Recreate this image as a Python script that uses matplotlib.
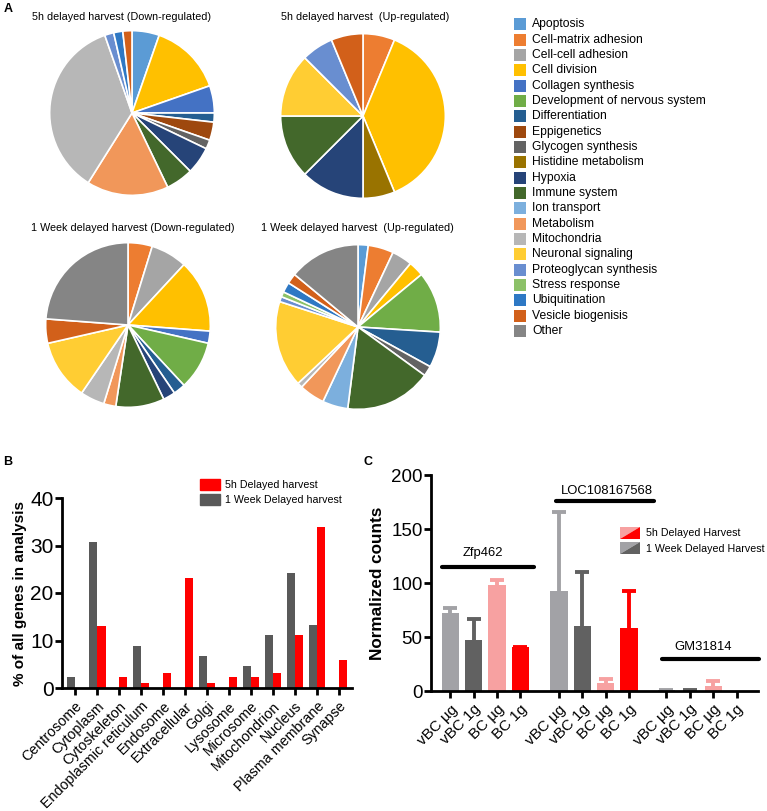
import matplotlib
matplotlib.use('Agg')
import matplotlib.pyplot as plt
import numpy as np
from matplotlib.patches import Rectangle, Polygon, Patch
from matplotlib.legend_handler import HandlerBase

plt.rcParams['font.family'] = ['Liberation Sans', 'DejaVu Sans']

# ---------------- DATA ----------------
categories = ['Apoptosis', 'Cell-matrix adhesion', 'Cell-cell adhesion', 'Cell division',
              'Collagen synthesis', 'Development of nervous system', 'Differentiation',
              'Eppigenetics', 'Glycogen synthesis', 'Histidine metabolism', 'Hypoxia',
              'Immune system', 'Ion transport', 'Metabolism', 'Mitochondria',
              'Neuronal signaling', 'Proteoglycan synthesis', 'Stress response',
              'Ubiquitination', 'Vesicle biogenisis', 'Other']
category_colors = ['#5B9BD5', '#ED7D31', '#A5A5A5', '#FFC000', '#4472C4', '#70AD47', '#255E91',
                   '#9E480E', '#636363', '#997300', '#264478', '#43682B', '#7CAFDD', '#F1975A',
                   '#B7B7B7', '#FFCD33', '#698ED0', '#8CC168', '#2E78C4', '#D2601A', '#858585']

pie1_title = '5h delayed harvest (Down-regulated)'
pie1_labels = ['Apoptosis', 'Cell division', 'Collagen synthesis', 'Differentiation', 'Eppigenetics',
               'Glycogen synthesis', 'Hypoxia', 'Immune system', 'Metabolism', 'Mitochondria',
               'Proteoglycan synthesis', 'Ubiquitination', 'Vesicle biogenisis']
pie1_values = [3, 8, 3, 1, 2, 1, 3, 3, 9, 20, 1, 1, 1]

pie2_title = '5h delayed harvest  (Up-regulated)'
pie2_labels = ['Cell-matrix adhesion', 'Cell division', 'Histidine metabolism', 'Hypoxia',
               'Immune system', 'Neuronal signaling', 'Proteoglycan synthesis', 'Vesicle biogenisis']
pie2_values = [1, 6, 1, 2, 2, 2, 1, 1]

pie3_title = '1 Week delayed harvest (Down-regulated)'
pie3_labels = ['Cell-matrix adhesion', 'Cell-cell adhesion', 'Cell division', 'Collagen synthesis',
               'Development of nervous system', 'Differentiation', 'Hypoxia', 'Immune system',
               'Metabolism', 'Mitochondria', 'Neuronal signaling', 'Vesicle biogenisis', 'Other']
pie3_values = [2, 3, 6, 1, 4, 1, 1, 4, 1, 2, 5, 2, 10]

pie4_title = '1 Week delayed harvest  (Up-regulated)'
pie4_labels = ['Apoptosis', 'Cell-matrix adhesion', 'Cell-cell adhesion', 'Cell division',
               'Development of nervous system', 'Differentiation', 'Glycogen synthesis',
               'Immune system', 'Ion transport', 'Metabolism', 'Mitochondria', 'Neuronal signaling',
               'Proteoglycan synthesis', 'Stress response', 'Ubiquitination', 'Vesicle biogenisis', 'Other']
pie4_values = [2, 5, 4, 3, 12, 7, 2, 17, 5, 5, 1, 17, 1, 1, 2, 2, 14]

compartments = ['Centrosome', 'Cytoplasm', 'Cytoskeleton', 'Endoplasmic reticulum', 'Endosome',
                'Extracellular', 'Golgi', 'Lysosome', 'Microsome', 'Mitochondrion', 'Nucleus',
                'Plasma membrane', 'Synapse']
h5_percent = [0, 13.1, 2.3, 1.0, 3.2, 23.2, 1.0, 2.3, 2.3, 3.2, 11.1, 34.0, 6.0]
week_percent = [2.3, 30.7, 0, 8.9, 0, 0, 6.7, 0, 4.6, 11.1, 24.2, 13.3, 0]

genes = ['Zfp462', 'LOC108167568', 'GM31814']
conditions = ['vBC µg', 'vBC 1g', 'BC µg', 'BC 1g']
counts_mean = [[72.5, 47.2, 98.1, 40.4],
               [92.6, 60.5, 7.1, 58.6],
               [0.5, 0.3, 4.6, 0.0]]
counts_upper = [[77.2, 66.4, 102.8, 41.0],
                [165.4, 110.5, 11.1, 92.9],
                [1.0, 0.8, 9.3, 0.0]]

# ---------------- LAYOUT ----------------
W, H = 767, 811
fig = plt.figure(figsize=(W / 100, H / 100), dpi=100)


def fx(px):
    return px / W


def fy(py):
    return 1 - py / H


color_of = dict(zip(categories, category_colors))

pies = [((132, 113), (122, 17), pie1_title, pie1_labels, pie1_values),
        ((363, 116), (365, 17), pie2_title, pie2_labels, pie2_values),
        ((128, 325), (133, 228), pie3_title, pie3_labels, pie3_values),
        ((358, 327), (357, 228), pie4_title, pie4_labels, pie4_values)]
R = 84
for (cx, cy), (tx, ty), title, labels, values in pies:
    ax = fig.add_axes([fx(cx - R), fy(cy + R), 2 * R / W, 2 * R / H])
    ax.pie(values, colors=[color_of[l] for l in labels], startangle=90, counterclock=False,
           wedgeprops=dict(edgecolor='white', linewidth=1.2))
    ax.set_xlim(-1.02, 1.02)
    ax.set_ylim(-1.02, 1.02)
    fig.text(fx(tx), fy(ty), title, ha='center', va='center', fontsize=7.75)

# legend A
for i, (name, col) in enumerate(zip(categories, category_colors)):
    yc = 24.3 + i * 15.33
    fig.patches.append(Rectangle((fx(514), fy(yc + 6)), 12 / W, 12 / H, transform=fig.transFigure,
                                 facecolor=col, edgecolor='none'))
    fig.text(fx(532), fy(yc), name, ha='left', va='center', fontsize=8.7)

# panel labels
fig.text(fx(8), fy(9), 'A', fontweight='bold', fontsize=9, ha='center', va='center')
fig.text(fx(8), fy(462), 'B', fontweight='bold', fontsize=9, ha='center', va='center')
fig.text(fx(368), fy(462), 'C', fontweight='bold', fontsize=9, ha='center', va='center')

# ---------------- PANEL B ----------------
axB = fig.add_axes([fx(62), fy(688), (352 - 62) / W, (688 - 498) / H])
xb = np.arange(len(compartments))
bw = 0.38
axB.bar(xb - bw / 2, week_percent, bw, color='#595959', label='1 Week Delayed harvest')
axB.bar(xb + bw / 2, h5_percent, bw, color='#FF0000', label='5h Delayed harvest')
axB.set_xlim(-0.6, 12.6)
axB.set_ylim(0, 40)
axB.set_yticks([0, 10, 20, 30, 40])
axB.set_xticks(xb)
axB.set_xticklabels(compartments, rotation=45, ha='right', rotation_mode='anchor', fontsize=10.3)
axB.tick_params(axis='y', labelsize=15, width=2, length=5, pad=1)
axB.tick_params(axis='x', width=2, length=5, pad=3)
for s in ['top', 'right']:
    axB.spines[s].set_visible(False)
for s in ['left', 'bottom']:
    axB.spines[s].set_linewidth(2)
axB.set_ylabel('% of all genes in analysis', fontsize=11, fontweight='bold')
axB.yaxis.set_label_coords((27 - 62) / 290, 0.5)
hB = [Patch(color='#FF0000'), Patch(color='#595959')]
axB.legend(hB, ['5h Delayed harvest', '1 Week Delayed harvest'], loc='upper left',
           bbox_to_anchor=(fx(200), fy(479)), bbox_transform=fig.transFigure, frameon=False,
           fontsize=7.7, handlelength=1.87, handleheight=1.2, labelspacing=0.4,
           handletextpad=0.5, borderpad=0, borderaxespad=0)

# ---------------- PANEL C ----------------
axC = fig.add_axes([fx(431), fy(691), (758 - 431) / W, 216 / H])
group_offsets = [0, 4.65, 9.25]
cond_colors = ['#A2A2A6', '#616161', '#F7A1A1', '#FF0000']
xt = []
for g, off in enumerate(group_offsets):
    for i in range(4):
        x = off + i
        xt.append(x)
        m = counts_mean[g][i]
        u = counts_upper[g][i]
        axC.vlines([x], [m], [u], colors=cond_colors[i], linewidth=2.8, zorder=1)
        if u > m:
            axC.plot([x], [u], marker='_', markersize=10, markeredgewidth=2.8,
                     color=cond_colors[i], zorder=1)
        axC.bar([x], [m], 0.74, color=cond_colors[i], zorder=2)
axC.set_xlim(-0.83, 13.17)
axC.set_ylim(0, 200)
axC.set_yticks([0, 50, 100, 150, 200])
axC.set_xticks(xt)
axC.set_xticklabels(conditions * 3, rotation=45, ha='right', rotation_mode='anchor', fontsize=11)
axC.tick_params(axis='y', labelsize=13.5, width=2, length=5, pad=1)
axC.tick_params(axis='x', width=2, length=5, pad=3)
for s in ['top', 'right']:
    axC.spines[s].set_visible(False)
for s in ['left', 'bottom']:
    axC.spines[s].set_linewidth(2)
axC.set_ylabel('Normalized counts', fontsize=12.3, fontweight='bold')
axC.yaxis.set_label_coords((385 - 431) / 327, 0.5)

gene_lines = [(-0.34, 3.6, 115, 1.37, 128), (4.54, 8.7, 176, 6.69, 185.5), (9.04, 13.2, 30, 10.8, 41)]
for name, (x0, x1, yl, xtx, ytx) in zip(genes, gene_lines):
    axC.plot([x0, x1], [yl, yl], color='black', lw=3, solid_capstyle='round', clip_on=False)
    axC.text(xtx, ytx, name, ha='center', va='center', fontsize=9.4)


class SplitSquare:
    def __init__(self, c1, c2):
        self.c1, self.c2 = c1, c2


class SplitHandler(HandlerBase):
    def create_artists(self, legend, orig_handle, xdescent, ydescent, width, height, fontsize, trans):
        x0, y0 = -xdescent, -ydescent
        p1 = Polygon([[x0, y0], [x0, y0 + height], [x0 + width, y0 + height]], closed=True,
                     facecolor=orig_handle.c1, edgecolor='none', transform=trans)
        p2 = Polygon([[x0, y0], [x0 + width, y0], [x0 + width, y0 + height]], closed=True,
                     facecolor=orig_handle.c2, edgecolor='none', transform=trans)
        return [p1, p2]


hC = [SplitSquare(cond_colors[2], cond_colors[3]), SplitSquare(cond_colors[0], cond_colors[1])]
axC.legend(hC, ['5h Delayed Harvest', '1 Week Delayed Harvest'], handler_map={SplitSquare: SplitHandler()},
           loc='upper left', bbox_to_anchor=(fx(620), fy(527)), bbox_transform=fig.transFigure,
           frameon=False, fontsize=7.7, handlelength=1.87, handleheight=1.3, labelspacing=0.35,
           handletextpad=0.55, borderpad=0, borderaxespad=0)

fig.savefig('out.png', dpi=100)
